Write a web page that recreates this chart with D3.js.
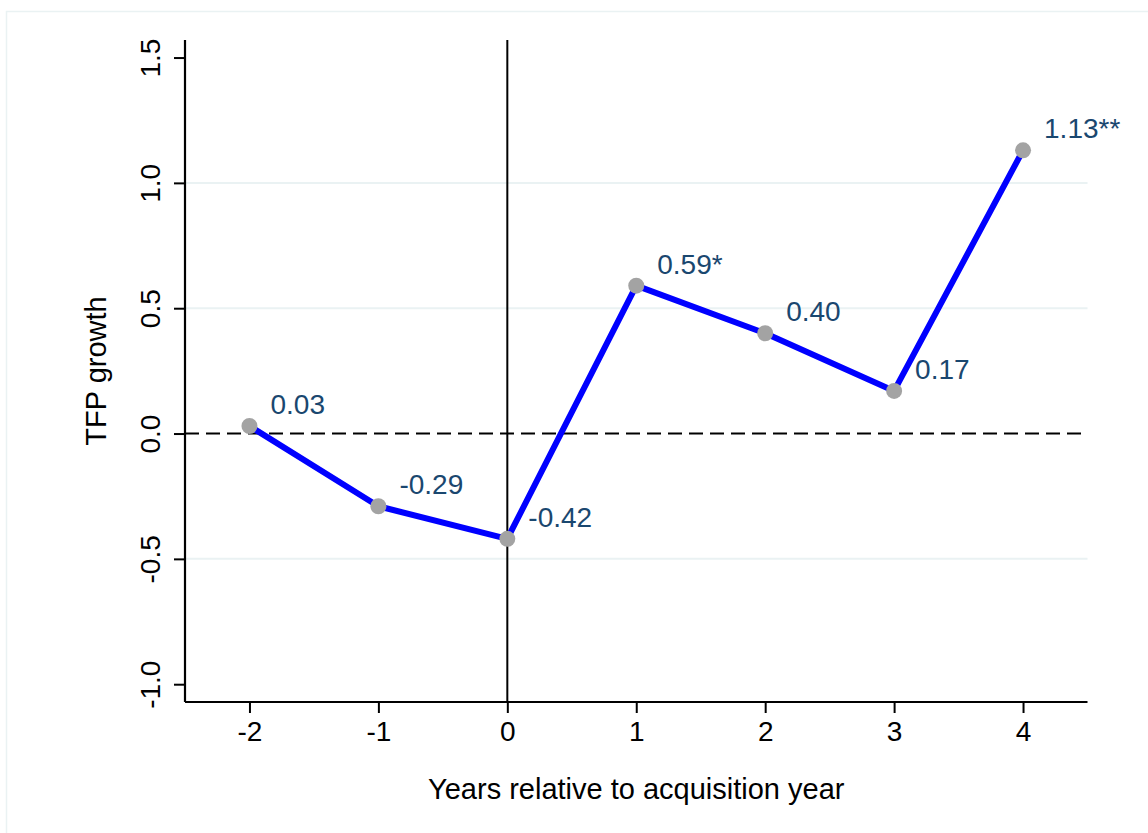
<!DOCTYPE html>
<meta charset="utf-8">
<script src="https://d3js.org/d3.v7.min.js"></script>
<style type="text/css">
    body { margin: 0; background: #fff; }
    svg { font-family: "Liberation Sans", Arial, sans-serif; }
    .tick-label { font-size: 28px; fill: #000; }
    .axis-title { font-size: 29px; fill: #000; }
    .point-label { font-size: 28px; fill: #1a476f; }
</style>
<body>
<script type="text/javascript">
    // event-time coefficients (years relative to acquisition)
    var years = [-2, -1, 0, 1, 2, 3, 4];
    var tfp = [0.03, -0.29, -0.42, 0.59, 0.40, 0.17, 1.13];
    var stars = ["", "", "", "*", "", "", "**"];
    var xTicks = [-2, -1, 0, 1, 2, 3, 4];
    var yTicks = [-1.0, -0.5, 0.0, 0.5, 1.0, 1.5];
    var gridVals = [-0.5, 0.5, 1.0];

    var width = 1148, height = 833;
    var plotLeft = 185, plotRight = 1087.5, plotTop = 40, plotBottom = 702;

    var svg = d3.select("body").append("svg")
        .attr("width", width)
        .attr("height", height);

    // outer frame
    svg.append("rect")
        .attr("x", 6.5).attr("y", 11.5)
        .attr("width", width).attr("height", height)
        .attr("fill", "none")
        .attr("stroke", "#eaf2f3")
        .attr("stroke-width", 1.5);

    var xScale = d3.scaleLinear().domain([-2.5, 4.5]).range([plotLeft, plotRight]);
    var yScale = d3.scaleLinear().domain([-1.071, 1.570]).range([plotBottom, plotTop]);

    // hyphen-minus like the original
    var fmt1 = d => d3.format(".1f")(d).replace("\u2212", "-");
    var fmtInt = d => String(d);

    // grid lines
    svg.selectAll(".grid")
        .data(gridVals)
        .enter().append("line")
        .attr("class", "grid")
        .attr("x1", plotLeft).attr("x2", plotRight)
        .attr("y1", d => yScale(d)).attr("y2", d => yScale(d))
        .attr("stroke", "#eaf2f3")
        .attr("stroke-width", 2);

    // zero line, dashed
    svg.append("line")
        .attr("x1", plotLeft).attr("x2", plotRight)
        .attr("y1", yScale(0)).attr("y2", yScale(0))
        .attr("stroke", "#000")
        .attr("stroke-width", 2)
        .attr("stroke-dasharray", "14,7");

    // acquisition year line
    svg.append("line")
        .attr("x1", xScale(0)).attr("x2", xScale(0))
        .attr("y1", plotTop).attr("y2", plotBottom)
        .attr("stroke", "#000")
        .attr("stroke-width", 2);

    // axes
    var yAxis = svg.append("g")
        .attr("transform", "translate(" + plotLeft + ",0)")
        .call(d3.axisLeft(yScale).tickValues(yTicks).tickSize(11).tickFormat(fmt1).tickSizeOuter(0));
    yAxis.attr("font-family", null).attr("font-size", null);
    yAxis.select(".domain").attr("stroke-width", 2.2).attr("d", "M0," + plotTop + "V" + plotBottom);
    yAxis.selectAll(".tick line").attr("stroke-width", 2);
    yAxis.selectAll(".tick text")
        .attr("class", "tick-label")
        .attr("x", null).attr("dy", null).attr("y", 0)
        .attr("text-anchor", "middle")
        .attr("transform", "translate(-25,0) rotate(-90)");

    var xAxis = svg.append("g")
        .attr("transform", "translate(0," + plotBottom + ")")
        .call(d3.axisBottom(xScale).tickValues(xTicks).tickSize(11).tickFormat(fmtInt).tickSizeOuter(0));
    xAxis.attr("font-family", null).attr("font-size", null);
    xAxis.select(".domain").attr("stroke-width", 2.2).attr("d", "M" + plotLeft + ",0H" + plotRight);
    xAxis.selectAll(".tick line").attr("stroke-width", 2);
    xAxis.selectAll(".tick text")
        .attr("class", "tick-label")
        .attr("dy", null)
        .attr("y", 39);

    // series line
    var line = d3.line()
        .x((d, i) => xScale(years[i]))
        .y(d => yScale(d));

    svg.append("path")
        .datum(tfp)
        .attr("d", line)
        .attr("fill", "none")
        .attr("stroke", "#0000ff")
        .attr("stroke-width", 6)
        .attr("stroke-linejoin", "round");

    svg.selectAll(".dot")
        .data(tfp)
        .enter().append("circle")
        .attr("cx", (d, i) => xScale(years[i]))
        .attr("cy", d => yScale(d))
        .attr("r", 8)
        .attr("fill", "#a3a3a3");

    svg.selectAll(".point-label")
        .data(tfp)
        .enter().append("text")
        .attr("class", "point-label")
        .attr("x", (d, i) => xScale(years[i]) + 21)
        .attr("y", d => yScale(d) - 12)
        .text((d, i) => d.toFixed(2) + stars[i]);

    // titles
    svg.append("text")
        .attr("class", "axis-title")
        .attr("x", (plotLeft + plotRight) / 2)
        .attr("y", 799)
        .attr("text-anchor", "middle")
        .text("Years relative to acquisition year");

    svg.append("text")
        .attr("class", "axis-title")
        .attr("text-anchor", "middle")
        .attr("transform", "translate(106," + (plotTop + plotBottom) / 2 + ") rotate(-90)")
        .text("TFP growth");
</script>
</body>
</html>
